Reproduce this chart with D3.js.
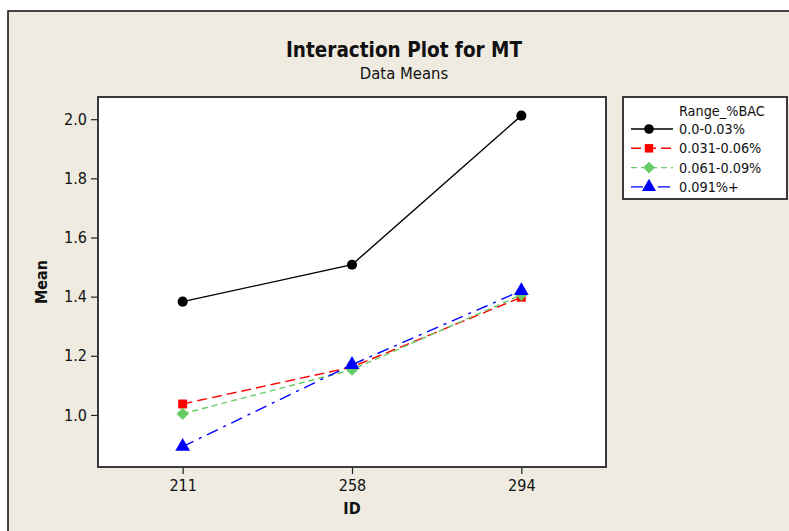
<!DOCTYPE html>
<html>
<head>
<meta charset="utf-8">
<script src="https://cdn.jsdelivr.net/npm/d3@7"></script>
<style>
  html, body { margin: 0; padding: 0; background: #ffffff; }
  svg { display: block; }
  text { font-family: "DejaVu Sans Condensed", "DejaVu Sans", sans-serif; fill: #111; }
</style>
</head>
<body>
<svg id="chart" width="789" height="531"></svg>
<script>
// Interaction plot: mean MT by ID for each BAC range
const ids = ["211", "258", "294"];
const groups = ["0.0-0.03%", "0.031-0.06%", "0.061-0.09%", "0.091%+"];
const meanLow = [1.383, 1.508, 2.012];
const meanMidLow = [1.037, 1.162, 1.398];
const meanMidHigh = [1.004, 1.153, 1.406];
const meanHigh = [0.893, 1.170, 1.420];
const yTicks = [1.0, 1.2, 1.4, 1.6, 1.8, 2.0];

const seriesValues = [meanLow, meanMidLow, meanMidHigh, meanHigh];
const colors = ["#000000", "#ff0000", "#66cc66", "#0000ff"];
const dashes = [null, "10,5", "6,4", "12,6,3,6"];
const symbols = [d3.symbolCircle, d3.symbolSquare, d3.symbolSquare, d3.symbolTriangle];
const symbolSizes = [80, 80, 75, 95];
const symbolRotation = [0, 0, 45, 0];

const svg = d3.select("#chart");

// outer panel
svg.append("rect").attr("x", 8).attr("y", 11).attr("width", 800).attr("height", 540)
  .attr("fill", "#efebe1").attr("stroke", "#1a1a1a").attr("stroke-width", 1.6);

// titles
svg.append("text").attr("x", 404).attr("y", 57).attr("text-anchor", "middle")
  .style("font-size", "20.5px").style("font-weight", "bold").text("Interaction Plot for MT");
svg.append("text").attr("x", 404).attr("y", 79).attr("text-anchor", "middle")
  .style("font-size", "16.5px").text("Data Means");

const plot = { left: 98, top: 97, right: 606, bottom: 467 };

const x = d3.scalePoint().domain(ids).range([plot.left, plot.right]).padding(0.5);
const y = d3.scaleLinear().domain([0.824, 2.075]).range([plot.bottom, plot.top]);

svg.append("rect").attr("x", plot.left).attr("y", plot.top)
  .attr("width", plot.right - plot.left).attr("height", plot.bottom - plot.top)
  .attr("fill", "#ffffff").attr("stroke", "#3a3a3a").attr("stroke-width", 2);

// axes
const yAxis = d3.axisLeft(y).tickValues(yTicks).tickFormat(d3.format(".1f")).tickSize(6).tickPadding(4);
const gy = svg.append("g").attr("transform", `translate(${plot.left - 1},0)`).call(yAxis);
gy.select(".domain").remove();
gy.selectAll("line").attr("stroke", "#222").attr("stroke-width", 1.2);
gy.selectAll("text").style("font-size", "16px").attr("fill", "#111")
  .style("font-family", "\"DejaVu Sans Condensed\", sans-serif");

const xAxis = d3.axisBottom(x).tickSize(6).tickPadding(6);
const gx = svg.append("g").attr("transform", `translate(0,${plot.bottom + 1})`).call(xAxis);
gx.select(".domain").remove();
gx.selectAll("line").attr("stroke", "#222").attr("stroke-width", 1.2);
gx.selectAll("text").style("font-size", "16px").attr("fill", "#111")
  .style("font-family", "\"DejaVu Sans Condensed\", sans-serif");

// axis titles
svg.append("text").attr("transform", `translate(47,${(plot.top + plot.bottom) / 2}) rotate(-90)`)
  .attr("text-anchor", "middle").style("font-size", "16px").style("font-weight", "bold").text("Mean");
svg.append("text").attr("x", x("258")).attr("y", 514).attr("text-anchor", "middle")
  .style("font-size", "16px").style("font-weight", "bold").text("ID");

// series lines and markers
const line = d3.line().x((d, i) => x(ids[i])).y(d => y(d));
seriesValues.forEach((vals, s) => {
  svg.append("path").datum(vals).attr("d", line).attr("fill", "none")
    .attr("stroke", colors[s]).attr("stroke-width", 1.4)
    .attr("stroke-dasharray", dashes[s]);
});
seriesValues.forEach((vals, s) => {
  svg.append("g").selectAll("path").data(vals).join("path")
    .attr("transform", (d, i) => `translate(${x(ids[i])},${y(d)}) rotate(${symbolRotation[s]})`)
    .attr("d", d3.symbol(symbols[s], symbolSizes[s]))
    .attr("fill", colors[s]);
});

// legend
const lg = { left: 623, top: 97, right: 787, bottom: 199 };
svg.append("rect").attr("x", lg.left).attr("y", lg.top)
  .attr("width", lg.right - lg.left).attr("height", lg.bottom - lg.top)
  .attr("fill", "#ffffff").attr("stroke", "#3a3a3a").attr("stroke-width", 2);
svg.append("text").attr("x", 679).attr("y", 116).style("font-size", "14.3px").text("Range_%BAC");
groups.forEach((g, s) => {
  const ly = 129 + s * 19.3;
  svg.append("line").attr("x1", 631).attr("x2", 673).attr("y1", ly).attr("y2", ly)
    .attr("stroke", colors[s]).attr("stroke-width", 1.4).attr("stroke-dasharray", dashes[s]);
  svg.append("path").attr("transform", `translate(649,${ly}) rotate(${symbolRotation[s]})`)
    .attr("d", d3.symbol(symbols[s], symbolSizes[s] * 0.9)).attr("fill", colors[s]);
  svg.append("text").attr("x", 679).attr("y", ly + 5).style("font-size", "14.3px").text(g);
});
</script>
</body>
</html>
